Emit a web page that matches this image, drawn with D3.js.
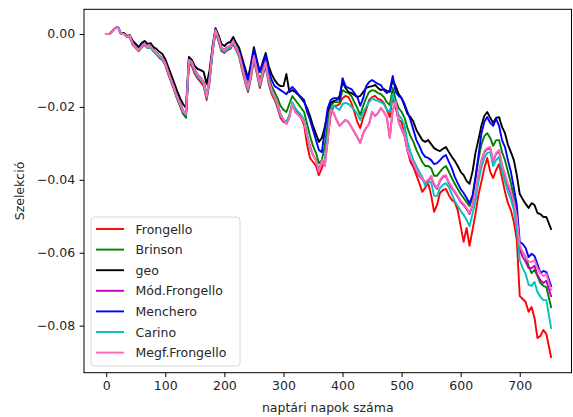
<!DOCTYPE html>
<html>
<head>
<meta charset="utf-8">
<script src="https://cdn.jsdelivr.net/npm/d3@7"></script>
<style>
  html, body { margin: 0; padding: 0; background: #fff; }
  svg { display: block; font-family: "DejaVu Sans", sans-serif; }
</style>
</head>
<body>
<svg id="chart" width="573" height="417"></svg>
<script>
// Trading days sampled every 5 days, last observation on day 753
const days = d3.range(0, 750, 5).concat([753]);

const frongello = [
  0, 0, 0.0008, 0.0016, 0.0019, 0, 0, -0.0008, -0.0008, -0.0030,
  -0.0038, -0.0047, -0.0036, -0.0030, -0.0038, -0.0036, -0.0047, -0.0055, -0.0066, -0.0071,
  -0.0085, -0.0110, -0.0132, -0.0154, -0.0178, -0.0197, -0.0219, -0.0228, -0.0082, -0.0088,
  -0.0110, -0.0123, -0.0132, -0.0143, -0.0181, -0.0132, -0.0052, 0.0005, -0.0019, -0.0047,
  -0.0052, -0.0044, -0.0041, -0.0027, -0.0044, -0.0063, -0.0099, -0.0132, -0.0159, -0.0121,
  -0.0071, -0.0110, -0.0148, -0.0115, -0.0088, -0.0137, -0.0165, -0.0181, -0.0203, -0.0230,
  -0.0241, -0.0244, -0.0225, -0.0192, -0.0208, -0.0219, -0.0230, -0.0250, -0.0304, -0.0340,
  -0.0351, -0.0362, -0.0387, -0.0368, -0.0346, -0.0283, -0.0222, -0.0197, -0.0197, -0.0192,
  -0.0176, -0.0170, -0.0173, -0.0189, -0.0214, -0.0241, -0.0258, -0.0230, -0.0208, -0.0181,
  -0.0173, -0.0170, -0.0178, -0.0181, -0.0189, -0.0208, -0.0228, -0.0170, -0.0203, -0.0236,
  -0.0241, -0.0277, -0.0318, -0.0351, -0.0365, -0.0387, -0.0409, -0.0433, -0.0422, -0.0409,
  -0.0442, -0.0488, -0.0469, -0.0436, -0.0428, -0.0425, -0.0442, -0.0455, -0.0461, -0.0483,
  -0.0527, -0.0570, -0.0532, -0.0581, -0.0538, -0.0494, -0.0442, -0.0406, -0.0368, -0.0340,
  -0.0378, -0.0395, -0.0373, -0.0357, -0.0395, -0.0433, -0.0464, -0.0483, -0.0516, -0.0565,
  -0.0719, -0.0727, -0.0735, -0.0762, -0.0749, -0.0779, -0.0834, -0.0828, -0.0812, -0.0823, -0.0886
];

const brinson = [
  0, 0, 0.0008, 0.0016, 0.0019, 0, 0, -0.0008, -0.0005, -0.0030,
  -0.0038, -0.0047, -0.0036, -0.0030, -0.0038, -0.0036, -0.0047, -0.0055, -0.0063, -0.0069,
  -0.0082, -0.0107, -0.0129, -0.0151, -0.0176, -0.0195, -0.0217, -0.0230, -0.0074, -0.0080,
  -0.0101, -0.0115, -0.0123, -0.0134, -0.0173, -0.0123, -0.0047, 0.0008, -0.0014, -0.0041,
  -0.0047, -0.0038, -0.0036, -0.0022, -0.0038, -0.0058, -0.0088, -0.0118, -0.0143, -0.0104,
  -0.0055, -0.0093, -0.0129, -0.0099, -0.0071, -0.0118, -0.0143, -0.0159, -0.0176, -0.0197,
  -0.0208, -0.0214, -0.0192, -0.0170, -0.0181, -0.0192, -0.0203, -0.0214, -0.0247, -0.0280,
  -0.0307, -0.0326, -0.0354, -0.0346, -0.0307, -0.0241, -0.0197, -0.0187, -0.0187, -0.0187,
  -0.0154, -0.0159, -0.0162, -0.0170, -0.0187, -0.0203, -0.0222, -0.0197, -0.0176, -0.0159,
  -0.0154, -0.0156, -0.0162, -0.0165, -0.0173, -0.0187, -0.0195, -0.0148, -0.0181, -0.0203,
  -0.0214, -0.0230, -0.0258, -0.0280, -0.0296, -0.0318, -0.0335, -0.0351, -0.0362, -0.0362,
  -0.0368, -0.0389, -0.0389, -0.0378, -0.0368, -0.0362, -0.0378, -0.0395, -0.0411, -0.0425,
  -0.0439, -0.0450, -0.0461, -0.0472, -0.0450, -0.0400, -0.0346, -0.0304, -0.0280, -0.0272,
  -0.0285, -0.0307, -0.0291, -0.0291, -0.0324, -0.0346, -0.0378, -0.0409, -0.0450, -0.0491,
  -0.0592, -0.0598, -0.0612, -0.0636, -0.0656, -0.0647, -0.0664, -0.0683, -0.0691, -0.0694, -0.0749
];

const geo = [
  0, 0, 0.0008, 0.0016, 0.0019, 0, 0.0003, -0.0005, -0.0003, -0.0019,
  -0.0027, -0.0036, -0.0025, -0.0019, -0.0027, -0.0025, -0.0036, -0.0041, -0.0049, -0.0055,
  -0.0069, -0.0091, -0.0112, -0.0134, -0.0156, -0.0176, -0.0192, -0.0203, -0.0063, -0.0071,
  -0.0088, -0.0096, -0.0099, -0.0104, -0.0137, -0.0099, -0.0033, 0.0016, -0.0003, -0.0027,
  -0.0033, -0.0025, -0.0022, -0.0008, -0.0025, -0.0038, -0.0066, -0.0093, -0.0121, -0.0082,
  -0.0036, -0.0071, -0.0104, -0.0077, -0.0052, -0.0088, -0.0110, -0.0126, -0.0137, -0.0143,
  -0.0143, -0.0110, -0.0159, -0.0154, -0.0159, -0.0167, -0.0176, -0.0187, -0.0203, -0.0225,
  -0.0252, -0.0274, -0.0296, -0.0285, -0.0255, -0.0214, -0.0189, -0.0184, -0.0181, -0.0170,
  -0.0132, -0.0148, -0.0159, -0.0162, -0.0167, -0.0173, -0.0170, -0.0159, -0.0148, -0.0145,
  -0.0143, -0.0140, -0.0148, -0.0154, -0.0151, -0.0156, -0.0159, -0.0126, -0.0143, -0.0165,
  -0.0176, -0.0197, -0.0219, -0.0228, -0.0241, -0.0263, -0.0277, -0.0291, -0.0296, -0.0291,
  -0.0302, -0.0313, -0.0318, -0.0321, -0.0315, -0.0310, -0.0324, -0.0337, -0.0348, -0.0362,
  -0.0378, -0.0387, -0.0403, -0.0411, -0.0378, -0.0326, -0.0291, -0.0252, -0.0225, -0.0214,
  -0.0230, -0.0244, -0.0230, -0.0228, -0.0255, -0.0272, -0.0304, -0.0324, -0.0346, -0.0387,
  -0.0439, -0.0453, -0.0466, -0.0477, -0.0464, -0.0469, -0.0491, -0.0494, -0.0502, -0.0502, -0.0535
];

const modFrongello = [
  0, 0, 0.0008, 0.0016, 0.0019, 0, 0, -0.0008, -0.0005, -0.0027,
  -0.0036, -0.0044, -0.0033, -0.0027, -0.0036, -0.0033, -0.0044, -0.0052, -0.0060, -0.0066,
  -0.0080, -0.0104, -0.0126, -0.0148, -0.0173, -0.0189, -0.0211, -0.0219, -0.0071, -0.0077,
  -0.0099, -0.0112, -0.0121, -0.0132, -0.0170, -0.0121, -0.0044, 0.0011, -0.0011, -0.0038,
  -0.0044, -0.0036, -0.0033, -0.0019, -0.0036, -0.0055, -0.0088, -0.0121, -0.0148, -0.0110,
  -0.0060, -0.0099, -0.0137, -0.0104, -0.0077, -0.0126, -0.0154, -0.0170, -0.0192, -0.0219,
  -0.0236, -0.0247, -0.0230, -0.0192, -0.0214, -0.0222, -0.0230, -0.0241, -0.0280, -0.0307,
  -0.0332, -0.0346, -0.0378, -0.0346, -0.0362, -0.0291, -0.0208, -0.0217, -0.0236, -0.0252,
  -0.0244, -0.0236, -0.0241, -0.0255, -0.0269, -0.0283, -0.0299, -0.0272, -0.0258, -0.0247,
  -0.0214, -0.0225, -0.0217, -0.0203, -0.0214, -0.0228, -0.0285, -0.0208, -0.0187, -0.0241,
  -0.0261, -0.0280, -0.0321, -0.0343, -0.0357, -0.0376, -0.0390, -0.0398, -0.0409, -0.0403,
  -0.0392, -0.0414, -0.0425, -0.0403, -0.0392, -0.0390, -0.0409, -0.0423, -0.0434, -0.0447,
  -0.0461, -0.0469, -0.0480, -0.0494, -0.0469, -0.0436, -0.0390, -0.0349, -0.0324, -0.0316,
  -0.0313, -0.0349, -0.0329, -0.0321, -0.0362, -0.0389, -0.0417, -0.0439, -0.0469, -0.0510,
  -0.0592, -0.0612, -0.0625, -0.0642, -0.0642, -0.0636, -0.0661, -0.0675, -0.0683, -0.0677, -0.0719
];

const menchero = [
  0, 0, 0.0008, 0.0016, 0.0019, 0, 0, -0.0008, -0.0005, -0.0027,
  -0.0036, -0.0044, -0.0033, -0.0027, -0.0036, -0.0033, -0.0044, -0.0052, -0.0060, -0.0066,
  -0.0080, -0.0104, -0.0126, -0.0148, -0.0173, -0.0189, -0.0211, -0.0219, -0.0071, -0.0077,
  -0.0099, -0.0112, -0.0121, -0.0132, -0.0170, -0.0121, -0.0044, 0.0011, -0.0011, -0.0038,
  -0.0044, -0.0036, -0.0033, -0.0019, -0.0036, -0.0049, -0.0077, -0.0104, -0.0126, -0.0088,
  -0.0044, -0.0077, -0.0104, -0.0082, -0.0058, -0.0099, -0.0126, -0.0143, -0.0148, -0.0154,
  -0.0159, -0.0165, -0.0154, -0.0145, -0.0154, -0.0165, -0.0173, -0.0181, -0.0214, -0.0236,
  -0.0263, -0.0291, -0.0318, -0.0324, -0.0263, -0.0203, -0.0181, -0.0176, -0.0176, -0.0181,
  -0.0121, -0.0143, -0.0148, -0.0151, -0.0162, -0.0173, -0.0197, -0.0176, -0.0143, -0.0132,
  -0.0126, -0.0132, -0.0137, -0.0140, -0.0154, -0.0162, -0.0154, -0.0115, -0.0159, -0.0170,
  -0.0176, -0.0192, -0.0214, -0.0236, -0.0263, -0.0291, -0.0307, -0.0326, -0.0337, -0.0340,
  -0.0346, -0.0357, -0.0354, -0.0346, -0.0337, -0.0332, -0.0351, -0.0368, -0.0392, -0.0409,
  -0.0425, -0.0436, -0.0450, -0.0464, -0.0444, -0.0392, -0.0335, -0.0274, -0.0241, -0.0228,
  -0.0244, -0.0252, -0.0233, -0.0252, -0.0291, -0.0310, -0.0346, -0.0378, -0.0422, -0.0469,
  -0.0570, -0.0576, -0.0587, -0.0612, -0.0603, -0.0609, -0.0631, -0.0656, -0.0650, -0.0653, -0.0691
];

const carino = [
  0, 0, 0.0008, 0.0016, 0.0019, 0, 0, -0.0008, -0.0005, -0.0030,
  -0.0038, -0.0047, -0.0036, -0.0030, -0.0038, -0.0036, -0.0047, -0.0055, -0.0063, -0.0069,
  -0.0082, -0.0107, -0.0129, -0.0151, -0.0176, -0.0192, -0.0214, -0.0222, -0.0077, -0.0082,
  -0.0104, -0.0118, -0.0126, -0.0137, -0.0176, -0.0126, -0.0049, 0.0008, -0.0016, -0.0044,
  -0.0049, -0.0041, -0.0038, -0.0025, -0.0041, -0.0060, -0.0093, -0.0126, -0.0154, -0.0115,
  -0.0066, -0.0104, -0.0143, -0.0110, -0.0082, -0.0132, -0.0159, -0.0176, -0.0197, -0.0225,
  -0.0236, -0.0241, -0.0222, -0.0187, -0.0203, -0.0214, -0.0222, -0.0236, -0.0274, -0.0313,
  -0.0332, -0.0346, -0.0373, -0.0351, -0.0346, -0.0274, -0.0208, -0.0197, -0.0203, -0.0208,
  -0.0192, -0.0189, -0.0192, -0.0200, -0.0208, -0.0219, -0.0236, -0.0214, -0.0200, -0.0187,
  -0.0176, -0.0181, -0.0184, -0.0187, -0.0192, -0.0208, -0.0214, -0.0165, -0.0195, -0.0222,
  -0.0233, -0.0250, -0.0296, -0.0324, -0.0346, -0.0362, -0.0378, -0.0392, -0.0417, -0.0406,
  -0.0406, -0.0444, -0.0444, -0.0422, -0.0414, -0.0409, -0.0420, -0.0439, -0.0458, -0.0472,
  -0.0485, -0.0496, -0.0510, -0.0527, -0.0494, -0.0458, -0.0406, -0.0368, -0.0340, -0.0326,
  -0.0324, -0.0362, -0.0346, -0.0337, -0.0378, -0.0406, -0.0433, -0.0453, -0.0483, -0.0538,
  -0.0620, -0.0642, -0.0658, -0.0688, -0.0691, -0.0680, -0.0708, -0.0721, -0.0730, -0.0730, -0.0806
];

const megfFrongello = [
  0, 0, 0.0008, 0.0016, 0.0019, 0, 0, -0.0008, -0.0005, -0.0027,
  -0.0036, -0.0044, -0.0033, -0.0027, -0.0036, -0.0033, -0.0044, -0.0052, -0.0060, -0.0066,
  -0.0080, -0.0104, -0.0126, -0.0148, -0.0173, -0.0189, -0.0211, -0.0219, -0.0071, -0.0077,
  -0.0099, -0.0112, -0.0121, -0.0132, -0.0170, -0.0121, -0.0044, 0.0011, -0.0011, -0.0038,
  -0.0044, -0.0036, -0.0033, -0.0019, -0.0036, -0.0055, -0.0088, -0.0121, -0.0148, -0.0110,
  -0.0060, -0.0099, -0.0137, -0.0104, -0.0077, -0.0126, -0.0154, -0.0170, -0.0192, -0.0219,
  -0.0236, -0.0247, -0.0230, -0.0192, -0.0214, -0.0222, -0.0230, -0.0241, -0.0280, -0.0307,
  -0.0332, -0.0346, -0.0378, -0.0346, -0.0362, -0.0291, -0.0208, -0.0217, -0.0236, -0.0252,
  -0.0244, -0.0236, -0.0241, -0.0255, -0.0269, -0.0283, -0.0299, -0.0272, -0.0258, -0.0247,
  -0.0214, -0.0225, -0.0217, -0.0203, -0.0214, -0.0228, -0.0285, -0.0208, -0.0187, -0.0241,
  -0.0258, -0.0277, -0.0318, -0.0340, -0.0354, -0.0373, -0.0387, -0.0395, -0.0406, -0.0400,
  -0.0389, -0.0411, -0.0422, -0.0400, -0.0389, -0.0387, -0.0406, -0.0420, -0.0431, -0.0444,
  -0.0458, -0.0466, -0.0477, -0.0491, -0.0466, -0.0433, -0.0387, -0.0346, -0.0321, -0.0313,
  -0.0310, -0.0346, -0.0326, -0.0318, -0.0357, -0.0384, -0.0411, -0.0431, -0.0461, -0.0502,
  -0.0579, -0.0598, -0.0612, -0.0625, -0.0625, -0.0620, -0.0642, -0.0656, -0.0664, -0.0658, -0.0702
];

const seriesNames = ["Frongello", "Brinson", "geo", "Mód.Frongello", "Menchero", "Carino", "Megf.Frongello"];
const seriesColors = ["#ff0000", "#008000", "#000000", "#bf00bf", "#0000ff", "#00bfbf", "#ff69b4"];
const seriesValues = [frongello, brinson, geo, modFrongello, menchero, carino, megfFrongello];

const xTicks = [0, 100, 200, 300, 400, 500, 600, 700];
const yTicks = [0, -0.02, -0.04, -0.06, -0.08];
const xTitle = "naptári napok száma";
const yTitle = "Szelekció";

// Layout
const plot = { left: 84, right: 571.5, top: 9.3, bottom: 372.7 };
const fontSize = 12.5;
const textColor = "#262626";

const svg = d3.select("#chart");

const x = d3.scaleLinear().domain([-37.6, 787.6]).range([plot.left, plot.right]);
const y = d3.scaleLinear().domain([-0.0929, 0.00677]).range([plot.bottom, plot.top]);

svg.append("defs").append("clipPath").attr("id", "plotClip")
  .append("rect")
  .attr("x", plot.left).attr("y", plot.top)
  .attr("width", plot.right - plot.left).attr("height", plot.bottom - plot.top);

// Series lines
const line = d3.line()
  .x((d, i) => x(days[i]))
  .y(d => y(d));

const linesG = svg.append("g").attr("clip-path", "url(#plotClip)");
seriesValues.forEach((vals, k) => {
  linesG.append("path")
    .datum(vals)
    .attr("d", line)
    .attr("fill", "none")
    .attr("stroke", seriesColors[k])
    .attr("stroke-width", 1.9)
    .attr("stroke-linejoin", "round")
    .attr("stroke-linecap", "square");
});

// Axes
const minusFmt = v => (v === 0 ? "0.00" : "\u2212" + d3.format(".2f")(Math.abs(v)));

const xAxis = d3.axisBottom(x).tickValues(xTicks).tickSize(4.4).tickPadding(4.4).tickFormat(d3.format("d"));
const yAxis = d3.axisLeft(y).tickValues(yTicks).tickSize(4.4).tickPadding(4.4).tickFormat(minusFmt);

const gx = svg.append("g").attr("transform", `translate(0,${plot.bottom})`).call(xAxis);
const gy = svg.append("g").attr("transform", `translate(${plot.left},0)`).call(yAxis);

[gx, gy].forEach(g => {
  g.select(".domain").remove();
  g.selectAll(".tick line").attr("stroke", "#000").attr("stroke-width", 1);
  g.selectAll(".tick text")
    .attr("fill", textColor)
    .style("font-family", "'DejaVu Sans', sans-serif")
    .style("font-size", fontSize + "px");
});

// Frame
svg.append("rect")
  .attr("x", plot.left).attr("y", plot.top)
  .attr("width", plot.right - plot.left).attr("height", plot.bottom - plot.top)
  .attr("fill", "none").attr("stroke", "#000").attr("stroke-width", 1);

// Axis titles
svg.append("text")
  .attr("x", (plot.left + plot.right) / 2).attr("y", 412)
  .attr("text-anchor", "middle")
  .attr("fill", textColor)
  .style("font-size", fontSize + "px")
  .text(xTitle);

svg.append("text")
  .attr("transform", `translate(23.5,${(plot.top + plot.bottom) / 2}) rotate(-90)`)
  .attr("text-anchor", "middle")
  .attr("fill", textColor)
  .style("font-size", fontSize + "px")
  .text(yTitle);

// Legend
const legend = svg.append("g");
legend.append("rect")
  .attr("x", 91).attr("y", 217).attr("width", 149).attr("height", 149)
  .attr("rx", 3).attr("ry", 3)
  .attr("fill", "#fff").attr("fill-opacity", 0.8)
  .attr("stroke", "#d6d6d6").attr("stroke-width", 1);

seriesNames.forEach((name, k) => {
  const cy = 229 + k * 20.6;
  legend.append("line")
    .attr("x1", 96).attr("x2", 124)
    .attr("y1", cy).attr("y2", cy)
    .attr("stroke", seriesColors[k]).attr("stroke-width", 1.9);
  legend.append("text")
    .attr("x", 135.5).attr("y", cy + 4.6)
    .attr("fill", textColor)
    .style("font-size", fontSize + "px")
    .text(name);
});
</script>
</body>
</html>
